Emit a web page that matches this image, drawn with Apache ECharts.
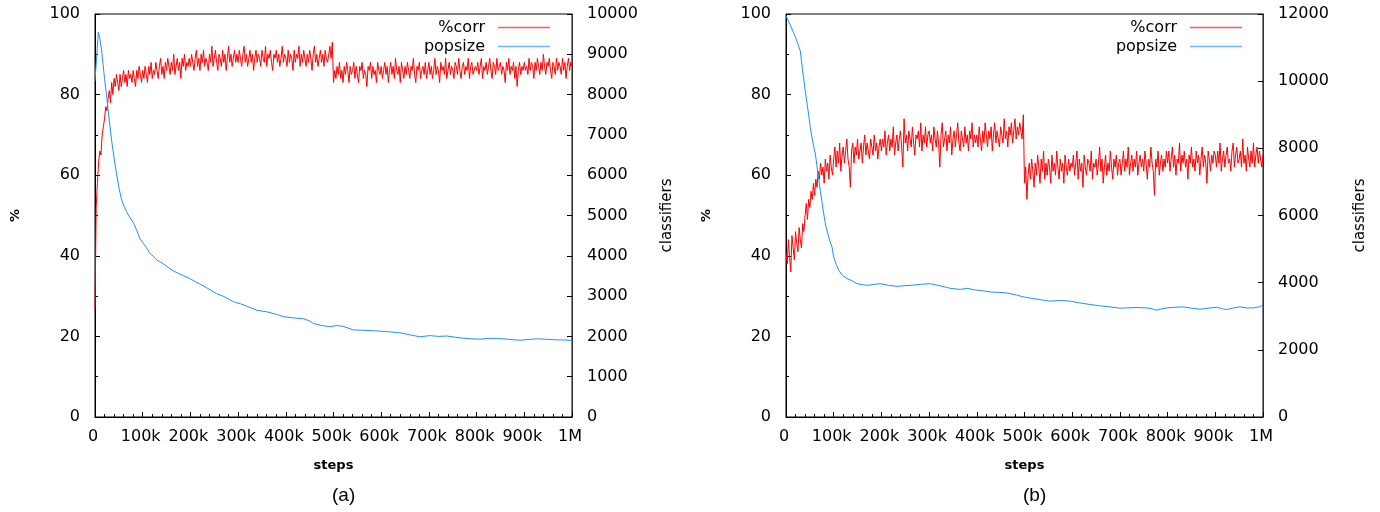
<!DOCTYPE html>
<html>
<head>
<meta charset="utf-8">
<title>%corr and population size over learning steps</title>
<script src="https://cdn.jsdelivr.net/npm/echarts@6/dist/echarts.min.js"></script>
<style>
  html, body { margin: 0; padding: 0; background: #fff; }
  #chart { width: 1380px; height: 512px; }
</style>
</head>
<body>
<div id="chart"></div>
<script>
// Steps are in thousands; %corr is sampled every CORR_STEP thousand steps.
const CORR_STEP = 2.5;

// Panel (a): percent correct, one value per 2.5k steps (0 .. 1M), 40 values per 100k
const corrA = [
  27,52,58,63,66,65,70,72,74,77,76,79,81,78,83,80,84,82,85,83,81,85,82,84,86,83,85,82,86,84,85,83,86,84,82,86,84,87,85,83,
  86,84,87,85,83,87,85,88,84,86,85,88,86,84,87,89,85,87,84,88,86,89,87,85,88,86,90,85,87,89,86,88,84,89,87,90,86,88,87,89,
  87,90,88,86,89,91,87,89,86,90,88,91,87,89,88,86,90,88,92,87,89,91,88,86,90,89,87,91,88,90,86,89,92,88,90,87,89,91,88,90,
  88,91,89,87,90,92,88,90,87,89,91,88,90,86,89,91,88,90,89,87,91,89,88,92,87,90,89,91,88,86,90,89,91,88,90,87,89,92,88,90,
  89,87,91,88,90,89,86,91,88,90,89,92,87,90,88,91,89,87,90,88,91,89,86,90,92,88,90,87,89,91,88,90,87,91,89,88,90,92,89,93,
  83,86,84,87,85,88,84,86,83,87,85,88,86,83,87,85,86,88,84,87,85,83,87,86,88,84,86,85,82,87,86,88,84,87,85,86,83,88,86,85,
  87,84,86,88,85,87,83,86,88,85,87,84,89,86,85,87,83,88,86,84,87,85,88,86,84,87,86,89,85,83,87,86,88,84,86,87,85,88,84,86,
  88,85,87,84,86,89,85,87,86,83,88,86,87,85,89,84,86,88,85,87,86,84,88,87,85,89,86,84,87,88,85,87,86,89,84,87,88,85,86,87,
  86,88,85,87,89,84,87,86,88,85,87,89,86,84,88,87,85,89,86,87,88,85,87,86,83,88,86,89,85,87,86,88,84,87,82,86,88,85,87,86,
  88,86,87,85,89,86,88,87,84,88,86,89,87,85,88,86,90,87,85,88,87,89,86,84,88,87,85,89,86,88,87,85,89,86,88,84,87,89,86,88,
  87
];

// Panel (a): population size (steps in k, classifiers)
const popAStep = [0,7,10,14,20,25,30,35,40,45,50,56,62,66,72,80,88,94,100,108,
  115,122,129,138,147,155,165,175,185,200,210,220,235,255,270,290,305,320,339,360,
  380,395,415,437,450,458,475,493,507,520,542,570,598,620,639,660,681,702,720,737,
  755,772,790,807,825,842,865,891,910,926,945,965,985,1000];
const popASize = [8340,9550,9400,9080,8400,7900,7350,6850,6420,6050,5700,5380,5200,5100,4970,4830,4620,4430,4330,4200,
  4060,3990,3900,3840,3770,3700,3620,3560,3510,3430,3360,3300,3200,3060,2990,2860,2810,2740,2650,2610,
  2550,2490,2460,2440,2380,2320,2270,2240,2270,2250,2160,2150,2130,2110,2090,2040,1990,2020,2000,2010,
  1980,1955,1940,1930,1950,1950,1930,1905,1925,1940,1930,1915,1910,1900];

// Panel (b): percent correct, one value per 2.5k steps (0 .. 1M), 40 values per 100k
const corrB = [
  41,38,44,40,36,45,42,39,46,43,41,47,44,42,48,46,50,53,49,54,52,56,54,58,55,59,57,61,59,63,60,62,58,64,61,63,59,65,62,60,
  64,67,62,66,63,68,61,65,67,63,66,69,64,62,57,66,68,63,67,65,69,64,66,68,63,67,70,65,68,66,64,69,67,65,70,66,68,64,67,69,
  66,69,67,71,65,68,70,66,69,67,72,65,68,70,66,69,71,67,62,74,68,70,66,71,69,67,72,68,65,70,69,71,67,73,66,70,68,72,67,70,
  71,68,70,66,72,69,67,71,68,62,70,73,67,69,71,66,70,68,72,65,69,71,67,70,73,68,66,71,69,67,72,68,70,66,71,69,73,67,70,68,
  70,67,72,69,66,71,68,73,70,67,71,69,72,66,70,73,68,71,69,67,72,70,68,74,69,71,67,72,70,73,68,71,74,69,72,70,73,71,69,75,
  58,62,54,60,63,59,64,61,57,63,60,65,62,58,64,61,66,59,63,60,64,62,58,65,61,63,60,66,62,59,64,61,63,58,65,62,60,64,61,63,
  62,65,60,63,66,59,64,61,63,57,65,62,60,64,63,61,66,59,63,62,64,60,63,67,61,64,58,62,65,60,63,61,66,62,59,64,62,65,60,63,
  64,60,63,66,61,64,62,67,60,63,65,61,64,62,66,60,63,65,62,64,61,66,63,59,64,62,67,63,61,55,64,62,66,60,63,65,61,64,62,66,
  63,66,61,64,67,62,65,60,64,63,68,61,65,63,66,62,64,59,65,63,67,62,64,61,66,63,65,60,64,67,62,65,63,58,66,64,61,65,63,66,
  65,62,66,63,68,61,64,66,62,65,67,63,64,61,66,68,62,65,67,63,64,66,62,69,63,65,61,67,64,62,66,63,68,62,65,67,63,66,64,62,
  65
];

// Panel (b): population size (steps in k, classifiers)
const popBStep = [0,8,16,24,30,35,40.5,46,51,56,61.6,67,72,77,82.5,90,96.5,100,105,110.5,
  118,128,138,149,160,170,185,198,215,233,248,261,282,303,325,345,365,380,394,412,
  430,448,465,483,500,512,535,554,575,596,615,637,658,679,700,714,735,756,768,776,
  790,805,820,833,850,868,885,903,915,924,940,952,965,980,992,1000];
const popBSize = [11940,11700,11440,11150,10900,10300,9700,9150,8620,8200,7830,7250,6740,6250,5750,5330,5060,4760,4550,4370,
  4220,4120,4060,3970,3940,3920,3950,3970,3920,3890,3910,3920,3950,3970,3900,3830,3800,3830,3790,3760,
  3720,3710,3690,3630,3570,3540,3490,3450,3470,3450,3400,3350,3310,3280,3240,3250,3260,3250,3220,3180,
  3230,3260,3270,3280,3240,3210,3240,3270,3220,3200,3250,3280,3250,3250,3280,3330];

// Axis settings
const xTickLabels = { 0: '0', 1000: '1M' };
const pctMax = 100, pctInterval = 20;
const popAMax = 10000, popAInterval = 1000;
const popBMax = 12000, popBInterval = 2000;
const panelLabels = ['(a)', '(b)'];

const RED = '#ff0000';
const BLUE = '#1e90ff';
const FONT = 'DejaVu Sans';
const TICK_FONT = 16;

const corrPairs = arr => arr.map((v, i) => [i * CORR_STEP, v]);
const zip = (xs, ys) => xs.map((x, i) => [x, ys[i]]);

const stepFmt = v => (v in xTickLabels) ? xTickLabels[v] : v + 'k';
const plainFmt = v => String(v);

function xAxisFor(gridIndex) {
  return {
    type: 'value', gridIndex, min: 0, max: 1000, interval: 100,
    name: 'steps', nameLocation: 'middle', nameGap: 42,
    nameTextStyle: { fontFamily: FONT, fontSize: 13, fontWeight: 'bold', color: '#000' },
    axisLine: { show: true, lineStyle: { color: '#000', width: 1 } },
    axisTick: { show: true, inside: true, length: 5, lineStyle: { color: '#000' } },
    minorTick: { show: true, splitNumber: 5, length: 3, lineStyle: { color: '#000' } },
    splitLine: { show: false },
    axisLabel: { fontFamily: FONT, fontSize: TICK_FONT, color: '#000', margin: 12, formatter: stepFmt, padding: [0, 4, 0, 0] }
  };
}

function pctAxisFor(gridIndex) {
  return {
    type: 'value', gridIndex, position: 'left', min: 0, max: pctMax, interval: pctInterval,
    name: '%', nameLocation: 'middle', nameRotate: 90, nameGap: 73,
    nameTextStyle: { fontFamily: FONT, fontSize: 13, fontWeight: 'bold', color: '#000' },
    axisLine: { show: true, lineStyle: { color: '#000', width: 1 } },
    axisTick: { show: true, inside: true, length: 5, lineStyle: { color: '#000' } },
    minorTick: { show: true, splitNumber: 2, length: 3, lineStyle: { color: '#000' } },
    splitLine: { show: false },
    axisLabel: { fontFamily: FONT, fontSize: TICK_FONT, color: '#000', margin: 15, formatter: plainFmt }
  };
}

function popAxisFor(gridIndex, max, interval, gap) {
  return {
    type: 'value', gridIndex, position: 'right', min: 0, max, interval,
    name: 'classifiers', nameLocation: 'middle', nameRotate: 90, nameGap: gap,
    nameTextStyle: { fontFamily: FONT, fontSize: 15, color: '#000' },
    axisLine: { show: true, lineStyle: { color: '#333', width: 1 } },
    axisTick: { show: true, inside: true, length: 5, lineStyle: { color: '#000' } },
    splitLine: { show: false },
    axisLabel: { fontFamily: FONT, fontSize: TICK_FONT, color: '#000', margin: 15, formatter: plainFmt }
  };
}

function legendFor(right) {
  return {
    orient: 'vertical', top: 13, right, align: 'right',
    icon: 'rect', itemWidth: 52, itemHeight: 1.5, itemGap: 0,
    selectedMode: false,
    itemStyle: { opacity: 0.65 },
    textStyle: { fontFamily: FONT, fontSize: 16, color: '#000', lineHeight: 19, padding: [0, 8, 0, 0] },
    data: ['%corr', 'popsize']
  };
}

function lineSeries(name, data, xAxisIndex, yAxisIndex, color, z) {
  return {
    name, type: 'line', data, xAxisIndex, yAxisIndex, z,
    showSymbol: false, symbol: 'none', smooth: false,
    lineStyle: { color, width: 1 }, itemStyle: { color },
    emphasis: { disabled: true }
  };
}

const chart = echarts.init(document.getElementById('chart'), null, { renderer: 'canvas' });

chart.setOption({
  animation: false,
  backgroundColor: '#fff',
  grid: [
    { left: 95, right: 808, top: 14, bottom: 95, show: true, borderColor: '#000', borderWidth: 1, containLabel: false },
    { left: 786, right: 117, top: 14, bottom: 95, show: true, borderColor: '#000', borderWidth: 1, containLabel: false }
  ],
  xAxis: [xAxisFor(0), xAxisFor(1)],
  yAxis: [
    pctAxisFor(0),
    popAxisFor(0, popAMax, popAInterval, 88),
    pctAxisFor(1),
    popAxisFor(1, popBMax, popBInterval, 90)
  ],
  legend: [legendFor(825), legendFor(133)],
  series: [
    lineSeries('%corr', corrPairs(corrA), 0, 0, RED, 2),
    lineSeries('popsize', zip(popAStep, popASize), 0, 1, BLUE, 3),
    lineSeries('%corr', corrPairs(corrB), 1, 2, RED, 2),
    lineSeries('popsize', zip(popBStep, popBSize), 1, 3, BLUE, 3)
  ],
  graphic: [
    { type: 'text', left: 332, top: 486, style: { text: panelLabels[0], font: '19px "Liberation Sans"', fill: '#000' } },
    { type: 'text', left: 1023, top: 486, style: { text: panelLabels[1], font: '19px "Liberation Sans"', fill: '#000' } }
  ]
});
</script>
</body>
</html>
